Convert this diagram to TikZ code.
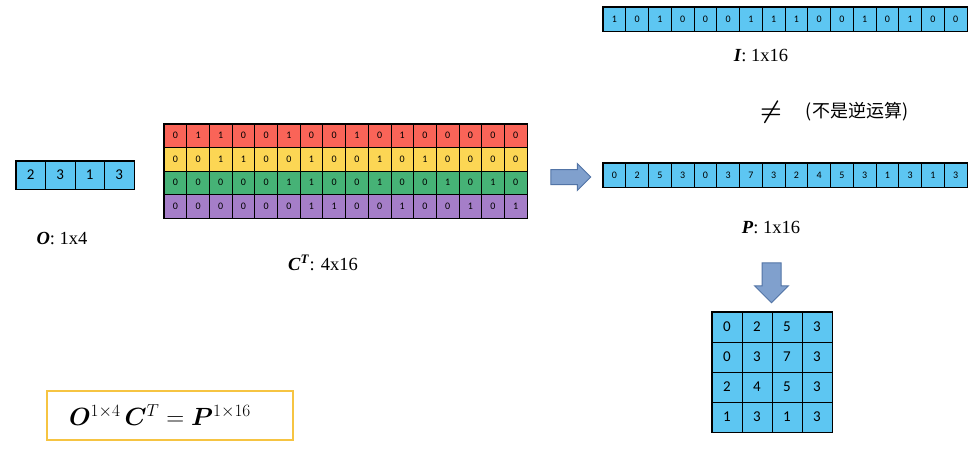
\documentclass[tikz,border=0pt]{standalone}
\usepackage{amsmath,bm}
\usepackage{fontspec}
\setmainfont{Liberation Serif}
\newfontfamily\cellfont{Carlito}
\newfontfamily\cjk{Noto Sans CJK SC}
\usetikzlibrary{shapes.arrows}
\definecolor{cblue}{RGB}{93,198,242}
\definecolor{cred}{RGB}{250,100,88}
\definecolor{cyellow}{RGB}{252,214,84}
\definecolor{cgreen}{RGB}{70,178,118}
\definecolor{cpurple}{RGB}{165,126,200}
\definecolor{arfill}{RGB}{128,160,205}
\definecolor{ardraw}{RGB}{82,116,166}
\definecolor{boxy}{RGB}{246,196,66}
\tikzset{
  cell/.style={draw=black, line width=0.8pt, inner sep=0pt, font=\cellfont\fontsize{10}{10}\selectfont},
  smallcell/.style={cell, fill=cblue, minimum width=22.75pt, minimum height=24pt},
  ctcell/.style={cell, minimum width=22.69pt, minimum height=23.5pt},
  bigcell/.style={cell, fill=cblue, font=\cellfont\fontsize{15}{15}\selectfont},
  frame/.style={draw=black, line width=1.6pt},
  lbl/.style={font=\fontsize{18.5}{18.5}\selectfont, inner sep=1pt},
  blockarrow/.style={single arrow, fill=arfill, draw=ardraw, line width=1pt,
     inner xsep=0pt, single arrow head indent=0pt, minimum height=40pt}
}
\begin{document}
\begin{tikzpicture}[x=1pt,y=-1pt]
\useasboundingbox[fill=white] (0,0) rectangle (979,458);

% O : 1x4
\foreach \v [count=\k] in {2,3,1,3}
  \node[bigcell, minimum width=29.5pt, minimum height=28pt] (o\k) at ({16+29.5*(\k-0.5)},175) {\v};
\draw[frame] (o1.north west) rectangle (o4.south east);
\node[lbl] (olbl) at (62,239) {\textbf{\textit{O}}: 1x4};

% C^T : 4x16
\foreach \v [count=\k] in {0,1,1,0,0,1,0,0,1,0,1,0,0,0,0,0}
  \node[ctcell, fill=cred] (ca\k) at ({164+22.69*(\k-0.5)},135.75) {\v};
\foreach \v [count=\k] in {0,0,1,1,0,0,1,0,0,1,0,1,0,0,0,0}
  \node[ctcell, fill=cyellow] (cb\k) at ({164+22.69*(\k-0.5)},159.25) {\v};
\foreach \v [count=\k] in {0,0,0,0,0,1,1,0,0,1,0,0,1,0,1,0}
  \node[ctcell, fill=cgreen] (cc\k) at ({164+22.69*(\k-0.5)},182.75) {\v};
\foreach \v [count=\k] in {0,0,0,0,0,0,1,1,0,0,1,0,0,1,0,1}
  \node[ctcell, fill=cpurple] (cd\k) at ({164+22.69*(\k-0.5)},206.25) {\v};
\draw[frame] (ca1.north west) rectangle (cd16.south east);
\node[lbl] (clbl) at (323,263) {\textbf{\textit{C}}\textsuperscript{\textbf{\textit{T}}}: 4x16};

% arrow right
\node[blockarrow, inner ysep=7pt, single arrow head extend=6pt] (arr) at (567,177) {};

% I : 1x16
\foreach \v [count=\k] in {1,0,1,0,0,0,1,1,1,0,0,1,0,1,0,0}
  \node[smallcell] (i\k) at ({603+22.75*(\k-0.5)},19) {\v};
\draw[frame] (i1.north west) rectangle (i16.south east);
\node[lbl] (ilbl) at (761,56) {\textbf{\textit{I}}: 1x16};

% not equal
\node (neq) at (771,112) {\fontsize{28}{28}\selectfont$\bm{\neq}$};
\node (neqtxt) at (857,112) {\cjk\fontsize{18}{18}\selectfont (不是逆运算)};

% P : 1x16
\foreach \v [count=\k] in {0,2,5,3,0,3,7,3,2,4,5,3,1,3,1,3}
  \node[smallcell] (p\k) at ({603+22.75*(\k-0.5)},175) {\v};
\draw[frame] (p1.north west) rectangle (p16.south east);
\node[lbl] (plbl) at (771,228) {\textbf{\textit{P}}: 1x16};

% arrow down
\node[blockarrow, rotate=-90, inner ysep=9pt, single arrow head extend=7.5pt] (ard) at (771.5,278) {};

% 4x4 grid
\foreach \a/\b/\c/\d [count=\r] in {0/2/5/3,0/3/7/3,2/4/5/3,1/3/1/3} {
  \node[bigcell, minimum size=30pt] (g\r-1) at (727,{312+30*(\r-0.5)}) {\a};
  \node[bigcell, minimum size=30pt] (g\r-2) at (757,{312+30*(\r-0.5)}) {\b};
  \node[bigcell, minimum size=30pt] (g\r-3) at (787,{312+30*(\r-0.5)}) {\c};
  \node[bigcell, minimum size=30pt] (g\r-4) at (817,{312+30*(\r-0.5)}) {\d};
}
\draw[frame] (g1-1.north west) rectangle (g4-4.south east);

% formula box
\node[draw=boxy, line width=1.5pt, minimum width=246pt, minimum height=49pt] (fbox) at (170,415.5) {};
\node (formula) at (160,415) {\fontsize{24}{24}\selectfont$\bm{O}^{1\times 4}\,\bm{C}^{T}=\bm{P}^{1\times 16}$};
\end{tikzpicture}
\end{document}
